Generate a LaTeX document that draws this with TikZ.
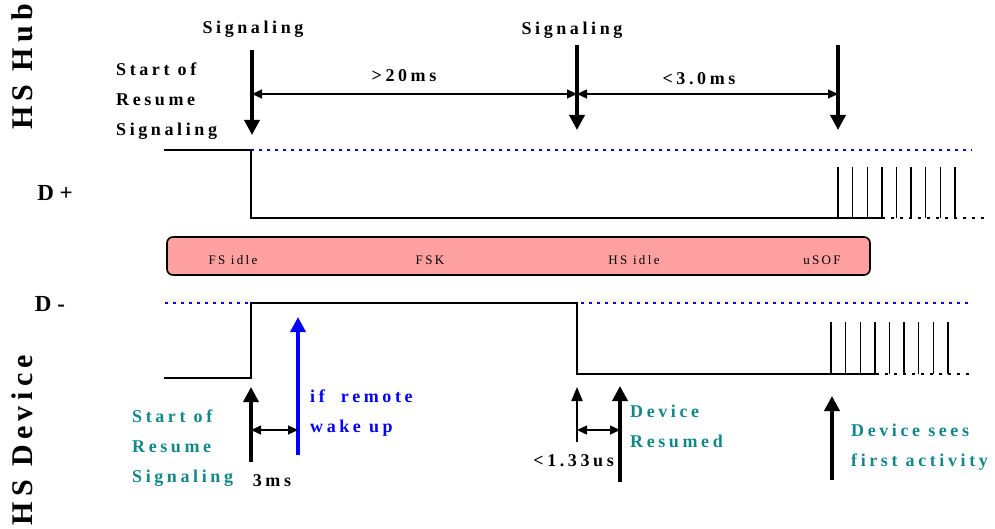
\documentclass[tikz,border=0pt]{standalone}
\usepackage{fontspec}
\setmainfont{Liberation Serif}
\usetikzlibrary{arrows.meta}
\definecolor{devteal}{RGB}{18,135,135}
\definecolor{barpink}{RGB}{255,160,160}
\begin{document}
\begin{tikzpicture}[x=1pt,y=-1pt,
  txt/.style={inner sep=0pt,align=left,font=\fontsize{18}{30}\bfseries\addfontfeatures{LetterSpace=20}},
  side/.style={inner sep=0pt,rotate=90,font=\fontsize{30}{34}\bfseries\addfontfeatures{LetterSpace=18}},
  lvl/.style={inner sep=0pt,font=\fontsize{23}{26}\bfseries},
  bar/.style={inner sep=0pt,font=\fontsize{13}{15}\selectfont\addfontfeatures{LetterSpace=18}},
  sig/.style={line width=1.4pt,line cap=rect},
  idle/.style={blue,line width=1.4pt,dash pattern=on 3pt off 5pt},
  tail/.style={line width=1.2pt,dash pattern=on 3pt off 6pt},
  tick/.style={line width=3.5pt,-{Triangle[length=15pt,width=15pt]}},
  span/.style={line width=1.3pt,{Triangle[length=10pt,width=9pt]}-{Triangle[length=10pt,width=9pt]}}]
  \useasboundingbox (0,0) rectangle (995,529);
  % hub side
  \node[side] (hub) at (22,67) {HS Hub};
  \node[txt,anchor=base] (sig1) at (253,34) {Signaling};
  \node[txt,anchor=base] (sig2) at (572,35) {Signaling};
  \node[txt,anchor=north west] (start1) at (116,63) {Start of\\Resume\\Signaling};
  \node[txt] (gap1) at (404,76) {>20ms};
  \node[txt] (gap2) at (699,79) {<3.0ms};
  \draw[tick] (252,50) -- (252,135);
  \draw[tick] (577,45) -- (577,130);
  \draw[tick] (838,45) -- (838,130);
  \draw[span] (252,94) -- (577,94);
  \draw[span] (577,94) -- (838,94);
  \node[lvl] (dp) at (55,193) {D +};
  \draw[idle] (251,150) -- (972,150);
  \draw[sig] (165,150) -- (251,150) -- (251,218) -- (882,218);
  \draw[tail] (882,218) -- (985,218);
  \foreach \i in {0,...,8}
    \draw[sig,line cap=butt] (838+\i*14.6,167) -- (838+\i*14.6,218);
  % line states
  \draw[line width=1.6pt,rounded corners=6pt,fill=barpink] (167,237) rectangle (870,275);
  \node[bar] (fsidle) at (233,260) {FS idle};
  \node[bar] (fsk) at (430,260) {FSK};
  \node[bar] (hsidle) at (634,260) {HS idle};
  \node[bar] (usof) at (822,260) {uSOF};
  % device side
  \node[lvl] (dm) at (50,304) {D -};
  \node[side] (dev) at (22,440) {HS Device};
  \draw[idle] (165,303) -- (972,303);
  \draw[sig] (165,378) -- (251,378) -- (251,303) -- (577,303) -- (577,374) -- (876,374);
  \draw[tail] (876,374) -- (972,374);
  \foreach \i in {0,...,8}
    \draw[sig,line cap=butt] (831+\i*14.6,322) -- (831+\i*14.6,374);
  \draw[tick] (251,462) -- (251,387);
  \draw[tick,blue] (298,455) -- (298,317);
  \draw[span] (251,430) -- (298,430);
  \draw[line width=2pt,-{Triangle[length=14pt,width=11pt]}] (577,442) -- (577,387);
  \draw[tick] (620,482) -- (620,386);
  \draw[span] (577,430) -- (620,430);
  \draw[tick] (832,480) -- (832,396);
  \node[txt,devteal,anchor=north west] (start2) at (132,410) {Start of\\Resume\\Signaling};
  \node[txt,blue,anchor=north west] (wake) at (310,390) {if\ \ remote\\wake up};
  \node[txt] (t3) at (272,481) {3ms};
  \node[txt,anchor=east] (t133) at (614,461) {<1.33us};
  \node[txt,devteal,anchor=north west] (resumed) at (630,405) {Device\\Resumed};
  \node[txt,devteal,anchor=north west] (first) at (851,424) {Device sees\\first activity};
\end{tikzpicture}
\end{document}
